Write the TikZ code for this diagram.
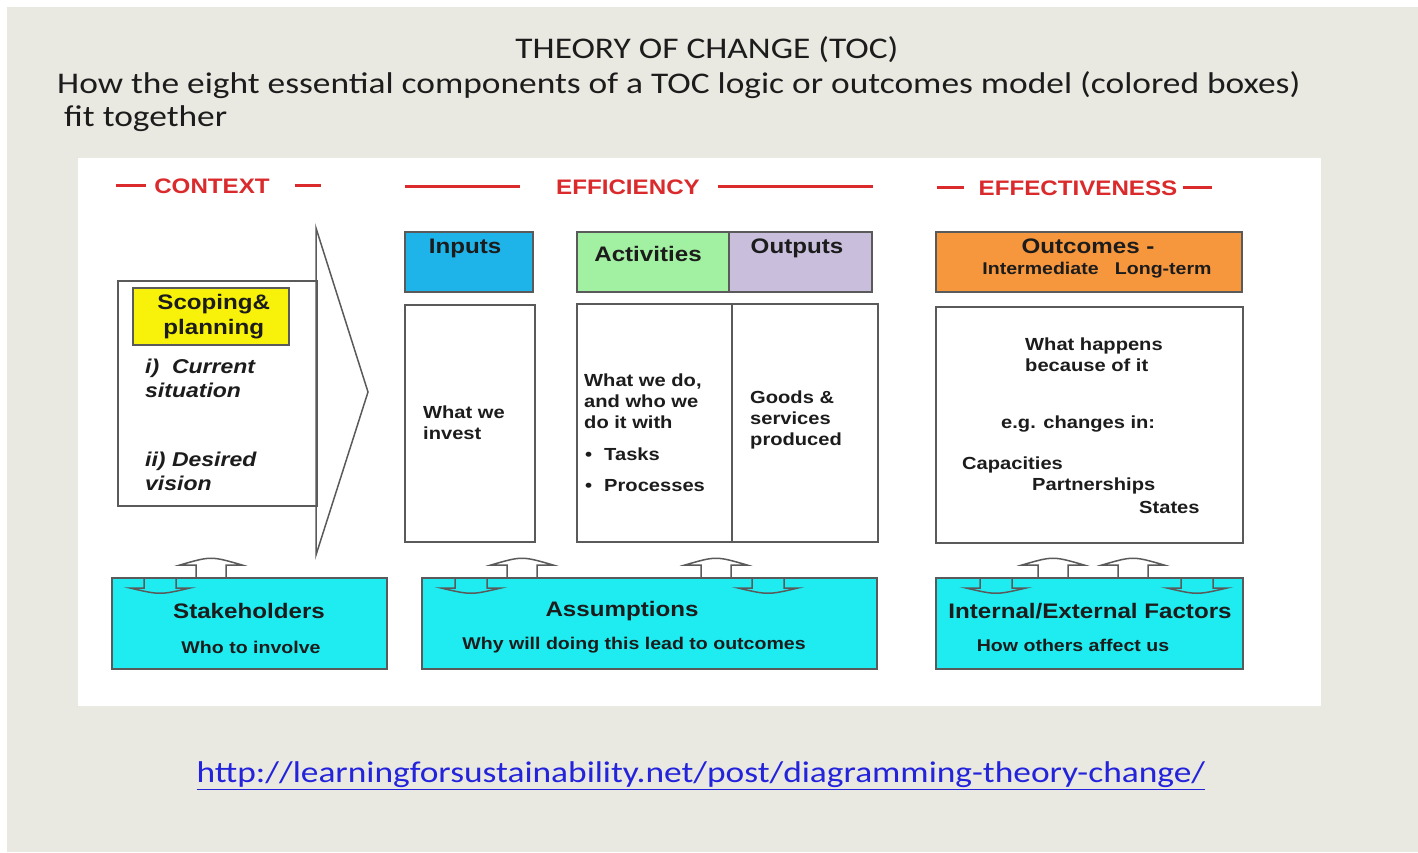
\documentclass[tikz,border=0pt]{standalone}
\usepackage{fontspec}
\setmainfont{Liberation Sans}[FakeStretch=1.15]
\newfontfamily\slidefont{Carlito}[FakeStretch=1.18]
\usetikzlibrary{positioning,calc}
\definecolor{slidegrey}{HTML}{E9E8E1}
\definecolor{ctxred}{HTML}{DA2A2C}
\definecolor{inblue}{HTML}{1EB4EA}
\definecolor{actgreen}{HTML}{A2F0A2}
\definecolor{outlilac}{HTML}{C9BFDC}
\definecolor{outorange}{HTML}{F6963D}
\definecolor{aqua}{HTML}{1FECF0}
\definecolor{scopeyellow}{HTML}{F8F20A}
\definecolor{edge}{HTML}{5A5A5A}
\definecolor{ink}{HTML}{1C1C1C}
\definecolor{urlblue}{HTML}{2323DC}
\tikzset{box/.style={draw=edge, line width=1.5pt, inner sep=0pt, anchor=north west}}
\tikzset{hdr/.style={text=ctxred, inner sep=0pt, font=\fontsize{21}{24}\selectfont\bfseries}}
\tikzset{redline/.style={draw=ctxred, line width=3pt}}
\tikzset{head/.style={text=ink, inner sep=0pt, align=center, font=\fontsize{21}{25}\selectfont\bfseries}}
\tikzset{sub/.style={text=ink, inner sep=0pt, font=\fontsize{17}{20}\selectfont\bfseries}}
\tikzset{txt/.style={text=ink, inner sep=0pt, anchor=west, align=left, font=\fontsize{17.5}{21}\selectfont\bfseries}}
\tikzset{itx/.style={text=ink, inner sep=0pt, anchor=west, align=left, font=\fontsize{20}{24}\selectfont\bfseries\itshape}}
\tikzset{blk/.style={draw=edge, line width=1.5pt}}
\tikzset{uparr/.pic={\draw[blk] (-15,0) -- (-15,-12) -- (-31,-12) .. controls (0,-21) .. (31,-12) -- (15,-12) -- (15,0);}}
\tikzset{dnarr/.pic={\draw[blk] (-16,0) -- (-16,11) -- (-30,11) .. controls (0,18) .. (30,11) -- (16,11) -- (16,0);}}
\begin{document}
\begin{tikzpicture}[x=1pt, y=-1pt]
\useasboundingbox (0,0) rectangle (1418,853);
\fill[slidegrey] (7,7) rectangle (1418,852);
\fill[white] (78,158) rectangle (1321,706);

% slide title
\node[font=\slidefont\fontsize{30}{36}\selectfont, text=ink] (title) at (707,50) {THEORY OF CHANGE (TOC)};
\node[font=\slidefont\fontsize{30}{36}\selectfont, text=ink, anchor=west, inner sep=0pt] (sub1) at (57,85)
  {How the eight essential components of a TOC logic or outcomes model (colored boxes)};
\node[font=\slidefont\fontsize{30}{36}\selectfont, text=ink, anchor=west, inner sep=0pt] (sub2) at (64,119) {fit together};

% red section headers
\node[hdr] (context) at (212,186) {CONTEXT};
\draw[redline] ([xshift=-8pt]context.west) -- ++(-30,0);
\draw[redline] ([xshift=25pt]context.east) -- ++(26,0);
\node[hdr] (efficiency) at (628,187) {EFFICIENCY};
\draw[redline] ([xshift=-36pt]efficiency.west) -- ++(-115,0);
\draw[redline] ([xshift=18pt]efficiency.east) -- ++(155,0);
\node[hdr] (effect) at (1078,188) {EFFECTIVENESS};
\draw[redline] ([xshift=-15pt]effect.west) -- ++(-27,0);
\draw[redline] ([xshift=5pt]effect.east) -- ++(29,0);

% context block arrow
\node[box, minimum width=199, minimum height=225] (ctx) at (117,280) {};
\draw[blk, line join=miter] (316,228) -- (368,392) -- (316,555) -- cycle;
\node[box, fill=scopeyellow, minimum width=156, minimum height=57] (scope) at (132,287) {};
\node[head] (scopetxt) at ([xshift=3pt]scope.center) {Scoping\&\\planning};
\node[itx] (current) at (145,378) {i)\ \ Current\\situation};
\node[itx] (desired) at (145,471) {ii) Desired\\vision};

% coloured headers
\node[box, fill=inblue, minimum width=128, minimum height=60] (inputs) at (404,231) {};
\node[box, fill=actgreen, minimum width=152, minimum height=60] (activities) at (576,231) {};
\node[box, fill=outlilac, minimum width=143, minimum height=60] (outputs) at (728,231) {};
\node[box, fill=outorange, minimum width=306, minimum height=60] (outcomes) at (935,231) {};
\node[head] (inputstxt) at (465,248) {Inputs};
\node[head] (acttxt) at (648,254) {Activities};
\node[head] (outtxt) at (797,248) {Outputs};
\node[head] (outctxt) at (1088,246) {Outcomes -};
\node[sub] (outcsub) at (1097,270) {Intermediate\ \ \ Long-term};

% white content boxes
\node[box, minimum width=130, minimum height=237] (inbody) at (404,304) {};
\node[box, minimum width=155, minimum height=238] (actbody) at (576,303) {};
\node[box, minimum width=146, minimum height=238] (outbody) at (731,303) {};
\node[box, minimum width=307, minimum height=236] (outcbody) at (935,306) {};
\node[txt] (invest) at (423,423) {What we\\invest};
\node[txt] (whatdo) at (584,401) {What we do,\\and who we\\do it with};
\node[txt] (tasks) at (585,454) {\textbullet\hspace{12pt}Tasks};
\node[txt] (procs) at (585,486) {\textbullet\hspace{12pt}Processes};
\node[txt] (goods) at (750,420) {Goods \&\\services\\produced};
\node[txt] (happens) at (1025,355) {What happens\\because of it};
\node[txt] (changes) at (1001,424) {e.g. changes in:};
\node[txt] (capac) at (962,465) {Capacities};
\node[txt] (partner) at (1032,486) {Partnerships};
\node[txt] (states) at (1139,507) {States};

% cyan factor boxes
\node[box, fill=aqua, minimum width=275, minimum height=91] (stake) at (111,577) {};
\node[box, fill=aqua, minimum width=455, minimum height=91] (assume) at (421,577) {};
\node[box, fill=aqua, minimum width=307, minimum height=91] (factors) at (935,577) {};
\node[head] (staketxt) at (249,611) {Stakeholders};
\node[sub] (stakesub) at (251,647) {Who to involve};
\node[head] (assumetxt) at (622,611) {Assumptions};
\node[sub] (assumesub) at (634,645) {Why will doing this lead to outcomes};
\node[head] (factorstxt) at (1090,611) {Internal/External Factors};
\node[sub] (factorssub) at (1073,645) {How others affect us};

% small influence arrows
\pic at (211,577) {uparr};
\pic at (160,577) {dnarr};
\pic at (471,577) {dnarr};
\pic at (522,577) {uparr};
\pic at (716,577) {uparr};
\pic at (768,577) {dnarr};
\pic at (996,577) {dnarr};
\pic at (1053,577) {uparr};
\pic at (1133,577) {uparr};
\pic at (1197,577) {dnarr};

\node[font=\slidefont\fontsize{30}{36}\selectfont, text=urlblue] (url) at (701,776)
  {\underline{http://learningforsustainability.net/post/diagramming-theory-change/}};
\end{tikzpicture}
\end{document}
